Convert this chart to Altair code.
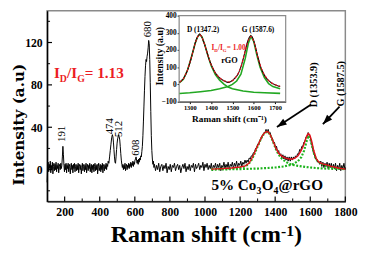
import math
import altair as alt
import pandas as pd

FONT = "Liberation Serif"
W, H = 305, 195

# ---------------- main spectrum: 5% Co3O4@rGO ----------------
spec = [
    (100,-12),(103,3),(106,7),(109,-2),(112,5),(115,1),(118,8),(121,-3),(124,4),(127,0),(130,7),(133,-4),
    (136,3),(139,6),(142,-1),(145,5),(148,0),(151,7),(154,-2),(157,4),(160,1),(163,6),(166,-3),(169,3),
    (172,5),(175,0),(178,6),(181,1),(184,4),(187,12),(190,22),(193,14),(196,4),(199,-2),(202,5),(205,0),
    (208,6),(211,-3),(214,4),(217,1),(220,6),(223,-2),(226,3),(229,5),(232,-4),(235,2),(238,6),(241,0),
    (244,4),(247,-3),(250,5),(253,1),(256,6),(259,-2),(262,3),(265,5),(268,-1),(271,4),(274,0),(277,6),
    (280,-3),(283,3),(286,5),(289,0),(292,4),(295,-4),(298,2),(301,6),(304,-1),(307,3),(310,5),(313,-2),
    (316,4),(319,0),(322,6),(325,-3),(328,2),(331,5),(334,-1),(337,4),(340,1),(343,6),(346,-2),(349,3),
    (352,5),(355,-3),(358,4),(361,0),(364,5),(367,-2),(370,3),(373,6),(376,-1),(379,4),(382,0),(385,5),
    (388,-4),(391,3),(394,6),(397,-1),(400,2),(403,5),(406,-2),(409,4),(412,0),(415,6),(418,-3),(421,3),
    (424,5),(427,-1),(430,4),(433,1),(436,6),(439,0),(442,5),(445,3),(448,8),(452,6),(456,12),(460,18),
    (464,24),(468,30),(472,33),(475,31),(478,26),(481,19),(484,12),(487,7),(490,6),(493,12),(496,19),
    (499,25),(502,29),(505,31),(508,33),(511,31),(514,28),(517,22),(520,15),(523,9),(526,5),(529,2),
    (532,5),(535,0),(538,4),(541,1),(544,6),(547,-1),(550,3),(553,5),(556,0),(559,4),(562,2),(565,6),
    (568,1),(571,5),(574,3),(577,7),(580,2),(583,6),(586,4),(589,8),(592,3),(595,7),(598,5),(601,9),
    (604,10),(607,12),(610,9),(613,6),(616,9),(619,5),(622,10),(625,7),(628,11),(631,9),(634,13),(637,12),
    (640,17),(643,22),(646,32),(649,45),(652,60),(655,75),(658,88),(661,98),(664,104),(667,102),(670,107),
    (673,110),(676,115),(679,122),(682,119),(685,104),(688,82),(691,55),(694,32),(697,18),(700,10),(703,5),
    (706,8),(709,2),(712,5),(718,-1),(724,4),(730,0),(736,6),(742,-2),(748,3),(754,5),(760,-1),(766,4),
    (772,1),(778,6),(784,-3),(790,3),(796,0),(802,5),(808,-2),(814,4),(820,2),(826,6),(832,-1),(838,3),
    (844,5),(850,0),(856,4),(862,-3),(868,2),(874,5),(880,1),(886,6),(892,-2),(898,3),(904,0),(910,5),
    (916,-1),(922,4),(928,2),(934,6),(940,-2),(946,5),(952,1),(958,3),(964,6),(970,0),(976,4),(982,2),
    (988,7),(994,-1),(1000,5),(1006,2),(1012,6),(1018,0),(1024,4),(1030,1),(1036,6),(1042,-1),(1048,4),
    (1054,2),(1060,6),(1066,0),(1072,5),(1078,2),(1084,6),(1090,-1),(1096,4),(1102,2),(1108,7),(1114,1),
    (1120,5),(1126,2),(1132,7),(1138,0),(1144,5),(1150,3),(1156,7),(1162,1),(1168,6),(1174,3),(1180,8),
    (1186,2),(1192,6),(1198,4),(1204,8),(1210,3),(1216,7),(1222,5),(1228,9),(1234,6),(1240,9),(1246,7),
    (1252,11),(1258,10),(1264,13),(1270,13),(1276,16),(1282,16),(1288,20),(1294,20),(1300,24),(1306,24),
    (1312,28),(1318,28),(1324,32),(1330,32),(1336,35),(1342,35),(1348,38),(1354,35),(1360,38),(1366,34),
    (1372,35),(1378,30),(1384,30),(1390,25),(1396,26),(1402,20),(1408,22),(1414,16),(1420,18),(1426,13),
    (1432,15),(1438,11),(1444,14),(1450,10),(1456,13),(1462,9),(1468,12),(1474,8),(1480,12),(1486,8),
    (1492,12),(1498,9),(1504,12),(1510,10),(1516,13),(1522,12),(1528,15),(1534,15),(1540,19),(1546,18),
    (1552,22),(1558,22),(1564,26),(1570,27),(1576,31),(1582,31),(1588,35),(1594,32),(1600,31),(1606,25),
    (1612,22),(1618,16),(1624,14),(1630,10),(1636,10),(1642,7),(1648,8),(1654,5),(1660,8),(1666,3),
    (1672,7),(1678,2),(1684,6),(1690,3),(1696,7),(1702,1),(1708,6),(1714,2),(1720,6),(1726,0),(1732,5),
    (1738,1),(1744,6),(1750,-1),(1756,4),(1762,1),(1768,6),(1774,-1),(1780,4),(1786,1),(1792,6),(1798,0),
    (1800,2),
]
fit = [(1036,0.5),(1100,1),(1150,1.5),(1200,2.5),(1230,3.5),(1250,6),(1265,10),(1280,15),(1295,21),
       (1305,24),(1320,30),(1335,34),(1350,36),(1362,35.5),(1375,32),(1390,26),(1405,20),(1420,15.5),
       (1440,12.5),(1460,10.8),(1480,10),(1500,10),(1515,11),(1530,13),(1545,17),(1560,22),(1572,28),
       (1582,32.5),(1590,34),(1598,32.5),(1608,27),(1620,18),(1635,10),(1650,7),(1670,5.5),(1694,4.5),
       (1720,3),(1760,1.5),(1800,0.5)]
comp_d = [(1036,0.4),(1100,0.8),(1150,1.2),(1200,2),(1230,3),(1250,5.5),(1265,9),(1280,14),(1295,20),
          (1305,23.5),(1320,29.5),(1335,33.5),(1350,35.5),(1362,35),(1375,31.5),(1390,25.5),(1405,19),
          (1420,14),(1440,10),(1460,7.5),(1480,5.5),(1500,4.5),(1530,3.5),(1560,2.8),(1600,2),(1650,1.3),
          (1700,0.9),(1800,0.5)]
comp_g = [(1036,0),(1200,0.5),(1300,1),(1400,2),(1450,3),(1500,5),(1530,8),(1550,12),(1565,18),(1578,26),
          (1590,32),(1600,29),(1612,21),(1625,13),(1640,8.5),(1660,5.5),(1690,3.5),(1720,2.5),(1760,1.2),
          (1800,0.5)]

peak_x = [185, 457, 512, 607, 674]
peak_y = [33.7, 41, 38.3, 20.8, 132.5]
peak_t = ["191", "474", "512", "608", "680"]

arrow_x = [1605, 1767]
arrow_y = [61.4, 59.5]
arrow_tx = [1410, 1672]
arrow_ty = [40.2, 42.9]
band_lab_x = [1622, 1778]
band_lab_y = [80, 81]
band_lab_t = ["D (1353.9)", "G (1587.5)"]

x_major = [200, 400, 600, 800, 1000, 1200, 1400, 1600, 1800]
x_minor = [300, 500, 700, 900, 1100, 1300, 1500, 1700]
y_major = [0, 40, 80, 120]
y_minor = [-20, 20, 60, 100, 140]

# ---------------- inset: rGO ----------------
ins = [(1252,14),(1258,18),(1264,26),(1270,33),(1276,46),(1282,60),(1288,78),(1294,100),(1300,122),
       (1306,148),(1312,178),(1318,205),(1324,236),(1330,258),(1336,276),(1342,288),(1347,293),(1352,284),
       (1358,272),(1364,250),(1370,232),(1376,205),(1382,182),(1388,158),(1394,135),(1400,118),(1406,100),
       (1412,86),(1418,72),(1424,60),(1430,52),(1436,42),(1442,36),(1448,30),(1454,26),(1460,22),(1466,18),
       (1472,15),(1478,12),(1484,12),(1490,15),(1496,20),(1502,24),(1508,32),(1514,40),(1520,48),(1526,60),
       (1532,76),(1538,95),(1544,118),(1550,145),(1556,175),(1562,205),(1568,235),(1574,258),(1580,275),
       (1586,283),(1592,278),(1598,262),(1604,238),(1610,208),(1616,176),(1622,148),(1628,120),(1634,98),
       (1640,80),(1646,64),(1652,50),(1658,40),(1664,30),(1670,22),(1676,16),(1682,10),(1688,6),(1694,2),
       (1700,-2),(1706,-5),(1712,-8),(1718,-10),(1724,-12)]
ins_fit = [(1252,12),(1270,32),(1290,85),(1310,168),(1325,238),(1337,278),(1347,290),(1357,278),
           (1370,232),(1385,170),(1400,116),(1420,66),(1440,38),(1460,22),(1480,14),(1495,17),(1510,32),
           (1525,58),(1540,100),(1555,170),(1570,240),(1580,272),(1587,280),(1595,270),(1605,232),
           (1620,155),(1635,95),(1650,55),(1670,22),(1690,4),(1710,-6),(1724,-10)]
ins_d = [(1252,10),(1270,30),(1290,85),(1310,168),(1325,238),(1337,278),(1347,290),(1357,278),(1370,232),
         (1385,168),(1400,110),(1420,58),(1440,25),(1460,2),(1480,-15),(1500,-25),(1550,-38),(1600,-45),
         (1650,-48),(1724,-52)]
ins_g = [(1252,-52),(1300,-48),(1350,-42),(1400,-35),(1440,-25),(1480,-12),(1500,0),(1520,20),(1540,60),
         (1560,150),(1575,240),(1587,280),(1600,250),(1615,170),(1630,100),(1650,40),(1670,5),(1690,-12),
         (1724,-25)]
ins_x_ticks = [1300, 1400, 1500, 1600, 1700]
ins_y_ticks = [-100, 0, 100, 200, 300, 400]


def frame(pairs):
    return pd.DataFrame({"x": [p[0] for p in pairs], "y": [p[1] for p in pairs]})


# ---------- main scales / axes ----------
xs = alt.Scale(domain=[100, 1800], nice=False, zero=False)
ys = alt.Scale(domain=[-30, 150], nice=False, zero=False)
AX = alt.Axis(values=x_major, format="d", ticks=False, grid=False, title=None, labelFont=FONT, labelFontSize=12,
              labelFontWeight="bold", labelColor="black", domainColor="black", domainWidth=1.5,
              labelPadding=5, labelFlush=False)
AY = alt.Axis(values=y_major, format="d", ticks=False, grid=False, title="Intensity (a.u)",
              titleFont="DejaVu Serif", titleFontSize=15.5, titleFontWeight="bold", titleColor="black",
              titleX=-21, titleY=116, labelFont=FONT, labelFontSize=12, labelFontWeight="bold",
              labelColor="black", domainColor="black", domainWidth=1.5, labelPadding=5)


def MX(f="x"):
    return alt.X(f + ":Q", scale=xs, axis=AX)


def MY(f="y"):
    return alt.Y(f + ":Q", scale=ys, axis=AY)


main_layers = []
main_layers.append(alt.Chart(frame(spec)).mark_line(color="black", strokeWidth=1).encode(x=MX(), y=MY()))
for comp in (comp_d, comp_g):
    main_layers.append(alt.Chart(frame(comp)).mark_line(color="#1db31d", strokeWidth=2.2, strokeDash=[2, 1.6])
                       .encode(x=MX(), y=MY()))
main_layers.append(alt.Chart(frame(fit)).mark_line(color="#e3101a", strokeWidth=1.4).encode(x=MX(), y=MY()))

# inward ticks
main_layers.append(alt.Chart(pd.DataFrame({"x": x_major})).mark_rule(color="black", strokeWidth=1.2)
                   .encode(x=MX(), y=alt.value(H), y2=alt.value(H - 5)))
main_layers.append(alt.Chart(pd.DataFrame({"x": x_minor})).mark_rule(color="black", strokeWidth=1)
                   .encode(x=MX(), y=alt.value(H), y2=alt.value(H - 3)))
main_layers.append(alt.Chart(pd.DataFrame({"y": y_major})).mark_rule(color="black", strokeWidth=1.2)
                   .encode(y=MY(), x=alt.value(0), x2=alt.value(5)))
main_layers.append(alt.Chart(pd.DataFrame({"y": y_minor})).mark_rule(color="black", strokeWidth=1)
                   .encode(y=MY(), x=alt.value(0), x2=alt.value(3)))

# peak labels
main_layers.append(alt.Chart(pd.DataFrame({"x": peak_x, "y": peak_y, "t": peak_t}))
                   .mark_text(angle=270, font=FONT, fontSize=11, color="black", align="center", baseline="middle")
                   .encode(x=MX(), y=MY(), text="t:N"))

# arrows
adf = pd.DataFrame({"x": arrow_x, "y": arrow_y, "x2": arrow_tx, "y2": arrow_ty})
main_layers.append(alt.Chart(adf).mark_rule(color="black", strokeWidth=1.8)
                   .encode(x=MX(), y=MY(), x2="x2:Q", y2="y2:Q"))
px_per_x = W / 1700.0
px_per_y = H / 180.0
angles = []
for a, b, c, d in zip(arrow_x, arrow_y, arrow_tx, arrow_ty):
    dxp = (c - a) * px_per_x
    dyp = -(d - b) * px_per_y
    angles.append(math.degrees(math.atan2(dxp, -dyp)) % 360)
hdf = pd.DataFrame({"x": arrow_tx, "y": arrow_ty, "a": angles})
main_layers.append(alt.Chart(hdf).mark_point(shape="M0,0L-0.75,2.1L0.75,2.1Z", filled=True, size=90,
                                             color="black", opacity=1, strokeWidth=0)
                   .encode(x=MX(), y=MY(), angle=alt.Angle("a:Q", scale=None)))
main_layers.append(alt.Chart(pd.DataFrame({"x": band_lab_x, "y": band_lab_y, "t": band_lab_t}))
                   .mark_text(angle=270, font=FONT, fontSize=10.5, fontWeight="bold", color="black",
                              align="center", baseline="middle")
                   .encode(x=MX(), y=MY(), text="t:N"))


def rich(pieces, x0, y0, color, font=FONT):
    out = []
    dx = 0.0
    for txt, size, dy, adv in pieces:
        out.append(alt.Chart().mark_text(text=txt, font=font, fontSize=size, fontWeight="bold", color=color,
                                         align="left", baseline="alphabetic", dx=dx, dy=dy)
                   .encode(x=alt.value(x0), y=alt.value(y0)))
        dx += adv
    return out


# I_D/I_G = 1.13
main_layers += rich([("I", 15.5, 0, 6.0), ("D", 10, 4, 7.3), ("/I", 15.5, 0, 10.4), ("G", 10, 4, 7.9),
                     ("= 1.13", 15.5, 0, 40)], 7, 69, "#ec1c24")
# 5% Co3O4@rGO
main_layers += rich([("5% Co", 15.5, 0, 46.2), ("3", 10, 4, 5.2), ("O", 15.5, 0, 12.1), ("4", 10, 4, 5.2),
                     ("@rGO", 15.5, 0, 46)], 168, 183, "black")
# x axis title with superscript
main_layers += rich([("Raman shift (cm", 24.5, 0, 174.3), ("-1", 16, -7, 13.2), (")", 24.5, 0, 9)],
                    65, 237, "black")

main = alt.layer(*main_layers)

# ---------- inset scales / axes ----------
ixs = alt.Scale(domain=[1250, 1750], range=[135, 244], nice=False, zero=False)
iys = alt.Scale(domain=[-100, 400], range=[93, 5], nice=False, zero=False)
IAX = alt.Axis(values=ins_x_ticks, format="d", orient="bottom", offset=-(H - 93), grid=False, tickSize=2,
               tickColor="black", domainColor="black", domainWidth=1, labelFont=FONT, labelFontSize=6.5,
               labelFontWeight="bold", labelColor="black", labelPadding=1, labelFlush=False,
               title="Raman shift (cm\u207b\u00b9)", titleFont=FONT, titleFontSize=9.5, titleFontWeight="bold",
               titleColor="black", titleX=186, titleY=12)
IAY = alt.Axis(values=ins_y_ticks, format="d", orient="left", offset=-135, grid=False, tickSize=2,
               tickColor="black", domainColor="black", domainWidth=1, labelFont=FONT, labelFontSize=7.5,
               labelFontWeight="bold", labelColor="black", labelPadding=1, title="Intensity (a.u)",
               titleFont=FONT, titleFontSize=10, titleFontWeight="bold", titleColor="black",
               titleX=-15, titleY=46)


def IX(f="x"):
    return alt.X(f + ":Q", scale=ixs, axis=IAX)


def IY(f="y"):
    return alt.Y(f + ":Q", scale=iys, axis=IAY)


ins_layers = []
ins_layers.append(alt.Chart(pd.DataFrame({"x": [1250], "x2": [1750], "y": [-100], "y2": [400]}))
                  .mark_rect(fill="white", stroke="#8a8a8a", strokeWidth=1.2)
                  .encode(x=IX(), x2="x2:Q", y=IY(), y2="y2:Q"))
for comp in (ins_d, ins_g):
    ins_layers.append(alt.Chart(frame(comp)).mark_line(color="#22a822", strokeWidth=1.6)
                      .encode(x=IX(), y=IY()))
ins_layers.append(alt.Chart(frame(ins)).mark_line(color="black", strokeWidth=1.1).encode(x=IX(), y=IY()))
ins_layers.append(alt.Chart(frame(ins_fit)).mark_line(color="#e3101a", strokeWidth=1.1, strokeDash=[3, 1.5])
                  .encode(x=IX(), y=IY()))
ins_layers += rich([("D (1347.2)", 7.5, 0, 0)], 143, 22, "black")
ins_layers += rich([("G (1587.6)", 7.5, 0, 0)], 199, 22, "black")
ins_layers += rich([("I", 7.5, 0, 2.9), ("D", 5, 2, 3.8), ("/I", 7.5, 0, 5), ("G", 5, 2, 4), ("= 1.00", 7.5, 0, 20)],
                   168, 40, "#ec1c24")
ins_layers += rich([("rGO", 8.5, 0, 0)], 178, 53, "black")

inset = alt.layer(*ins_layers)

chart = (alt.layer(main, inset)
         .resolve_scale(x="independent", y="independent")
         .properties(width=W, height=H, padding={"left": 40, "top": 0, "right": 15, "bottom": 51},
                     autosize=alt.AutoSizeParams(type="none"))
         .configure_view(stroke="#8a8a8a", strokeWidth=1.5))

chart.save("out.html", embed_options={"renderer": "svg", "actions": False})
